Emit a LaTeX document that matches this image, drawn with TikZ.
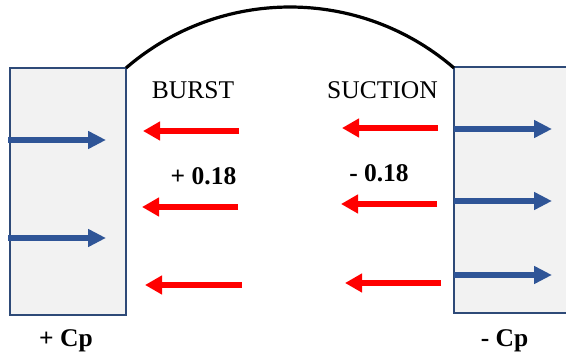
\documentclass[tikz,border=0pt]{standalone}
\usepackage{fontspec}
\setmainfont{Liberation Serif}
\usetikzlibrary{arrows.meta}
\definecolor{panelfill}{HTML}{F2F2F2}
\definecolor{paneledge}{HTML}{2E4A78}
\definecolor{flowblue}{HTML}{2F5597}
\definecolor{flowred}{HTML}{FF0000}
\tikzset{
  panel/.style={draw=paneledge, line width=1.4pt, fill=panelfill},
  bluearrow/.style={draw=flowblue, line width=5.5pt,
    -{Triangle[length=18pt,width=17pt]}},
  redarrow/.style={draw=flowred, line width=5.5pt,
    -{Triangle[length=17pt,width=18pt]}},
  label/.style={anchor=base, inner sep=0pt, font=\fontsize{25.5}{29}\selectfont},
  boldlabel/.style={label, font=\fontsize{25.5}{29}\selectfont\bfseries},
}
\begin{document}
\begin{tikzpicture}[x=1pt,y=-1pt]
  \useasboundingbox (0,0) rectangle (566,355);
  \clip (0,0) rectangle (566,355);

  % side panels
  \draw[panel] (10,68) rectangle (126,315);
  \draw[panel] (454,67) rectangle (570,313);
  \coordinate (roofL) at (126,68);
  \coordinate (roofR) at (454,68);

  % curved roof between the panels
  \draw[line width=3.2pt] (roofL) arc[start angle=229.2, end angle=310.8, radius=251];

  % blue arrows on the windward panel
  \coordinate (lb1s) at (8,140);   \coordinate (lb1e) at (106,140);
  \coordinate (lb2s) at (8,238);   \coordinate (lb2e) at (106,238);
  \draw[bluearrow] (lb1s) -- (lb1e);
  \draw[bluearrow] (lb2s) -- (lb2e);

  % blue arrows on the leeward panel
  \coordinate (rb1s) at (454,129); \coordinate (rb1e) at (552,129);
  \coordinate (rb2s) at (454,201); \coordinate (rb2e) at (552,201);
  \coordinate (rb3s) at (454,275); \coordinate (rb3e) at (552,275);
  \draw[bluearrow] (rb1s) -- (rb1e);
  \draw[bluearrow] (rb2s) -- (rb2e);
  \draw[bluearrow] (rb3s) -- (rb3e);

  % red arrows under the roof
  \coordinate (lr1s) at (239,131); \coordinate (lr1e) at (143,131);
  \coordinate (lr2s) at (238,207); \coordinate (lr2e) at (142,207);
  \coordinate (lr3s) at (242,285); \coordinate (lr3e) at (145,285);
  \coordinate (rr1s) at (438,128); \coordinate (rr1e) at (342,128);
  \coordinate (rr2s) at (437,204); \coordinate (rr2e) at (341,204);
  \coordinate (rr3s) at (441,283); \coordinate (rr3e) at (345,283);
  \draw[redarrow] (lr1s) -- (lr1e);
  \draw[redarrow] (lr2s) -- (lr2e);
  \draw[redarrow] (lr3s) -- (lr3e);
  \draw[redarrow] (rr1s) -- (rr1e);
  \draw[redarrow] (rr2s) -- (rr2e);
  \draw[redarrow] (rr3s) -- (rr3e);

  % labels
  \node[label] (burst) at (193,99) {BURST};
  \node[label] (suction) at (382.5,99) {SUCTION};
  \node[boldlabel] (pos) at (203.5,185) {+ 0.18};
  \node[boldlabel] (neg) at (379,182) {- 0.18};
  \node[boldlabel] (pcp) at (66,347) {+ Cp};
  \node[boldlabel] (ncp) at (504.5,347) {- Cp};
\end{tikzpicture}
\end{document}
